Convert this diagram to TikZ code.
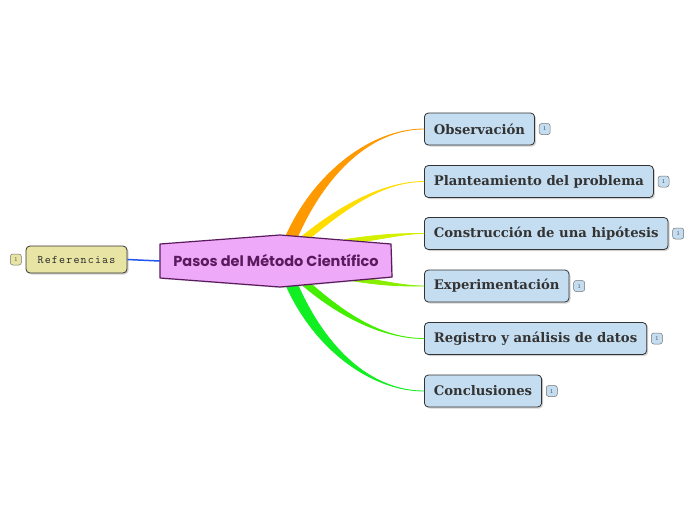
\documentclass[tikz,border=0pt]{standalone}
\usepackage{fontspec}
\usetikzlibrary{calc,shadows}
\newfontfamily\titlefont{Poppins}
\newfontfamily\boxfont{DejaVu Serif}
\definecolor{boxblue}{HTML}{C5DDF0}
\definecolor{khaki}{HTML}{E8E4A4}
\definecolor{violetfill}{HTML}{EEAAF8}
\definecolor{violetdark}{HTML}{5A1A5E}
\definecolor{txtgray}{HTML}{333333}
\definecolor{cOrange}{HTML}{FF9900}
\definecolor{cYellow}{HTML}{FFDD00}
\definecolor{cLime}{HTML}{D4F000}
\definecolor{cLgreen}{HTML}{88EE00}
\definecolor{cGreen}{HTML}{44EE00}
\definecolor{cDgreen}{HTML}{11EE22}
\definecolor{cBlue}{HTML}{2255EE}
\newcommand\taper[6]{%
  \filldraw[fill=#1,draw=#1,line width=0.8pt,line join=round]
    ($(#2)-(#6)$) .. controls ($(#4)-(#6)$) and (#5) .. (#3.west)
    .. controls (#5) and ($(#4)+(#6)$) .. ($(#2)+(#6)$) -- cycle;}
\newcommand\ks{\kern1.2pt}
\tikzset{
  topic/.style={draw=txtgray,line width=0.8pt,fill=boxblue,rounded corners=4pt,
    minimum height=32pt,inner xsep=9.5pt,anchor=west,text=txtgray,
    font=\boxfont\bfseries\fontsize{13.2}{16}\selectfont,
    drop shadow={shadow xshift=1.5pt,shadow yshift=-1.5pt,opacity=0.35}},
  badge/.style={draw=black!55,line width=0.5pt,fill=boxblue,rounded corners=2.5pt,
    minimum width=11pt,minimum height=11pt,inner sep=0pt,
    font=\fontsize{6}{6}\selectfont,text=black!70},
}
\begin{document}
\begin{tikzpicture}[x=1pt,y=-1pt]
\useasboundingbox[fill=white] (0,0) rectangle (696,520);
% topics
\node[topic] (n1) at (424,129) {Observación};
\node[topic] (n2) at (424,181.5) {Planteamiento del problema};
\node[topic] (n3) at (424,233.5) {Construcción de una hipótesis};
\node[topic] (n4) at (424,286) {Experimentación};
\node[topic] (n5) at (424,338.5) {Registro y análisis de datos};
\node[topic] (n6) at (424,391) {Conclusiones};
\foreach \i in {1,...,6}{
  \node[badge,anchor=west] (b\i) at ([xshift=4pt]n\i.east) {1};
}
\coordinate (s1) at (291,238);
\coordinate (s2) at (305,238);
\coordinate (s3) at (345,242);
\coordinate (s4) at (345,277);
\coordinate (s5) at (305,283);
\coordinate (s6) at (291,283);
\taper{cOrange}{s1}{n1}{320,172}{372,129}{6,0}
\taper{cYellow}{s2}{n2}{345,205}{385,181.5}{5,0}
\taper{cLime}{s3}{n3}{385,236}{405,233.5}{0,2.5}
\taper{cLgreen}{s4}{n4}{385,284}{405,286}{0,2.5}
\taper{cGreen}{s5}{n5}{345,318}{385,338.5}{5,0}
\taper{cDgreen}{s6}{n6}{320,350}{372,391}{6,0}
% referencias
\node[draw=txtgray,line width=0.8pt,fill=khaki,rounded corners=4pt,
  minimum width=101pt,minimum height=27pt,inner sep=0pt,text=black!85,
  font=\fontsize{11.6}{13}\selectfont\ttfamily,
  drop shadow={shadow xshift=1.5pt,shadow yshift=-1.5pt,opacity=0.35}]
  (ref) at (76.5,259.5) {R\ks e\ks f\ks e\ks r\ks e\ks n\ks c\ks i\ks a\ks s};
\node[badge,fill=khaki,anchor=east] (b0) at ([xshift=-4pt]ref.west) {1};
% central
\draw[violetdark,line width=1.2pt,fill=violetfill,line join=round,
  drop shadow={shadow xshift=1pt,shadow yshift=-1pt,opacity=0.25}]
  (160,244) -- (280,235) -- (391,244) -- (392,277) -- (280,287) -- (160,278) -- cycle;
\node[minimum width=232pt,minimum height=44pt,inner sep=0pt,text=violetdark,
  font=\titlefont\bfseries\fontsize{14.5}{16}\selectfont] (c) at (276,261) {Pasos del Método Científico};
\draw[cBlue,line width=1.5pt] (ref.east) -- (c.west);
\end{tikzpicture}
\end{document}
